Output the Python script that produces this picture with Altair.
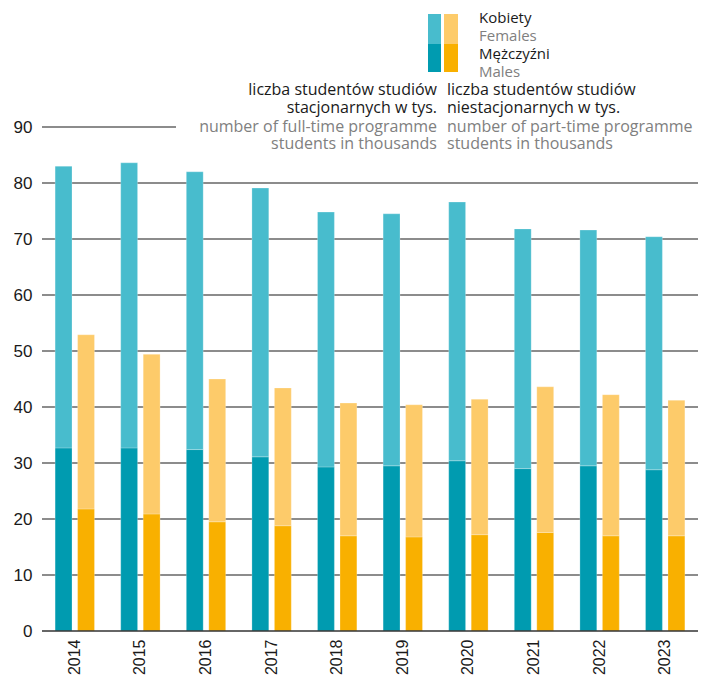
import altair as alt
import pandas as pd

years = ["2014", "2015", "2016", "2017", "2018", "2019", "2020", "2021", "2022", "2023"]
full_males = [32.7, 32.7, 32.4, 31.1, 29.3, 29.5, 30.4, 29.0, 29.5, 28.8]
full_females = [50.3, 50.9, 49.6, 48.0, 45.5, 45.0, 46.2, 42.8, 42.1, 41.6]
part_males = [21.8, 20.9, 19.5, 18.8, 17.0, 16.8, 17.2, 17.6, 17.0, 17.0]
part_females = [31.1, 28.5, 25.5, 24.6, 23.7, 23.6, 24.2, 26.0, 25.2, 24.2]

grid_values = [10, 20, 30, 40, 50, 60, 70, 80]
y_ticks = [0, 10, 20, 30, 40, 50, 60, 70, 80, 90]

keys = ["full_m", "full_f", "part_m", "part_f"]
colors = ["#009BB0", "#48BCCD", "#F9B000", "#FDCB6A"]

rows = []
for i, y in enumerate(years):
    rows.append({"year": y, "kind": "full", "key": "full_m", "ord": 0, "value": full_males[i]})
    rows.append({"year": y, "kind": "full", "key": "full_f", "ord": 1, "value": full_females[i]})
    rows.append({"year": y, "kind": "part", "key": "part_m", "ord": 0, "value": part_males[i]})
    rows.append({"year": y, "kind": "part", "key": "part_f", "ord": 1, "value": part_females[i]})
df = pd.DataFrame(rows)

W, H = 656, 504
FONT = "Open Sans"
AX_FONT = "Liberation Sans"
BLACK = "#1a1a1a"
GRAY = "#808080"

yscale = alt.Scale(domain=[0, 90], nice=False, zero=True)
yaxis = alt.Axis(values=y_ticks, grid=False, domain=False, ticks=False, labelPadding=10,
                 labelFont=AX_FONT, labelFontSize=17, labelColor=BLACK, title=None)

grid = alt.Chart(pd.DataFrame({"v": grid_values})).mark_rule(color="#666666", strokeWidth=1.5).encode(
    y=alt.Y("v:Q", scale=yscale, axis=yaxis, title=None),
    x=alt.value(0), x2=alt.value(W),
)
grid90 = alt.Chart(pd.DataFrame({"v": [90]})).mark_rule(color="#666666", strokeWidth=1.5).encode(
    y=alt.Y("v:Q", scale=yscale, axis=yaxis, title=None),
    x=alt.value(0), x2=alt.value(134),
)

bars = alt.Chart(df).mark_bar(stroke="#ffffff", strokeWidth=0.4, strokeOpacity=0.6).encode(
    x=alt.X("year:N", sort=years, title=None,
            scale=alt.Scale(paddingInner=0.4, paddingOuter=0.2),
            axis=alt.Axis(labelAngle=-90, labelFont=AX_FONT, labelFontSize=16, labelColor=BLACK,
                          ticks=False, domain=False, labelPadding=8)),
    xOffset=alt.XOffset("kind:N", sort=["full", "part"],
                        scale=alt.Scale(paddingInner=0.25, paddingOuter=0)),
    y=alt.Y("value:Q", stack="zero", scale=yscale, title=None, axis=yaxis),
    color=alt.Color("key:N", scale=alt.Scale(domain=keys, range=colors), legend=None),
    order=alt.Order("ord:Q"),
)

base0 = alt.Chart(pd.DataFrame({"v": [0]})).mark_rule(color="#333333", strokeWidth=1.5).encode(
    y=alt.Y("v:Q", scale=yscale, axis=yaxis, title=None),
    x=alt.value(0), x2=alt.value(W),
)

one = pd.DataFrame({"a": [0]})


def txt(s, x, y, color, align="left", size=15):
    return alt.Chart(one).mark_text(text=s, align=align, baseline="middle", font=FONT,
                                    fontSize=size, color=color).encode(x=alt.value(x), y=alt.value(y))


def box(x, x2, y, y2, color):
    return alt.Chart(one).mark_rect(color=color).encode(
        x=alt.value(x), x2=alt.value(x2), y=alt.value(y), y2=alt.value(y2))


legend = [
    box(386, 399, -113, -83, colors[1]),
    box(386, 399, -83, -55, colors[0]),
    box(402, 416, -113, -83, colors[3]),
    box(402, 416, -83, -55, colors[2]),
    txt("Kobiety", 437, -109, BLACK),
    txt("Females", 437, -91, GRAY),
    txt("Mężczyźni", 437, -73, BLACK),
    txt("Males", 437, -55, GRAY),
]

headers = [
    txt("liczba studentów studiów", 395, -37, BLACK, "right", 16),
    txt("stacjonarnych w tys.", 395, -19, BLACK, "right", 16),
    txt("number of full-time programme", 395, 0, GRAY, "right", 16),
    txt("students in thousands", 395, 17, GRAY, "right", 16),
    txt("liczba studentów studiów", 405, -37, BLACK, "left", 16),
    txt("niestacjonarnych w tys.", 405, -19, BLACK, "left", 16),
    txt("number of part-time programme", 405, 0, GRAY, "left", 16),
    txt("students in thousands", 405, 17, GRAY, "left", 16),
]

chart = alt.layer(grid, grid90, bars, base0, *legend, *headers).properties(
    width=W, height=H,
    autosize=alt.AutoSizeParams(type="none"),
    padding={"left": 34, "top": 119, "right": 1, "bottom": 46},
).configure_view(stroke=None)

chart.save("out.html", embed_options={"renderer": "svg", "actions": False})
